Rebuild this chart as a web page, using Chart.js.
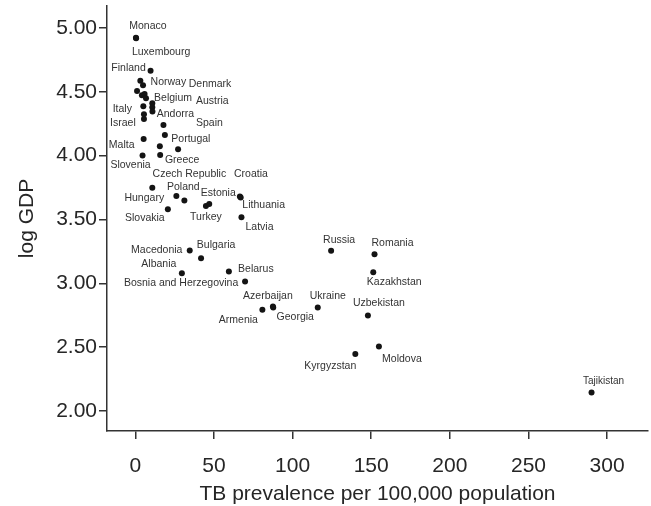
<!DOCTYPE html>
<html>
<head>
<meta charset="utf-8">
<script src="https://cdn.jsdelivr.net/npm/chart.js@4/dist/chart.umd.min.js"></script>
<style>
  html, body { margin: 0; padding: 0; background: #fff; }
  #wrap { width: 651px; height: 506px; }
</style>
</head>
<body>
<div id="wrap"><canvas id="c"></canvas></div>
<script>
// countries ('' = unlabelled point)
const countries = [
  'Monaco', 'Luxembourg', 'Finland', 'Norway', 'Denmark', '', '', '', 'Belgium', 'Austria',
  '', 'Andorra', 'Italy', '', 'Israel', 'Spain', 'Portugal', 'Malta', '', '',
  'Slovenia', 'Greece', 'Hungary', 'Czech Republic', 'Poland', 'Slovakia', 'Turkey', 'Estonia', 'Croatia', 'Lithuania',
  'Latvia', 'Macedonia', 'Bulgaria', 'Albania', 'Belarus', 'Bosnia and Herzegovina', 'Azerbaijan', 'Armenia', 'Georgia', 'Ukraine',
  'Russia', 'Romania', 'Kazakhstan', 'Uzbekistan', 'Moldova', 'Kyrgyzstan', 'Tajikistan'
];
const tbPrevalence = [
  0.4, 0.5, 9.7, 3.2, 4.9, 1.1, 4.2, 5.9, 6.8, 10.8,
  10.8, 10.9, 5.1, 5.5, 5.5, 17.9, 18.8, 5.3, 15.6, 27.2,
  4.6, 15.8, 10.8, 31.2, 26.1, 20.7, 44.9, 47.0, 66.5, 67.0,
  67.5, 34.6, 41.8, 29.6, 59.5, 69.8, 87.5, 80.8, 87.7, 116.0,
  124.5, 152.1, 151.3, 147.9, 154.9, 139.9, 290.1
];
const logGdp = [
  4.924, 4.92, 4.665, 4.587, 4.551, 4.507, 4.473, 4.483, 4.449, 4.410,
  4.379, 4.345, 4.387, 4.324, 4.287, 4.240, 4.162, 4.131, 4.074, 4.050,
  4.000, 4.005, 3.749, 3.648, 3.684, 3.580, 3.606, 3.622, 3.679, 3.672,
  3.518, 3.256, 3.197, 3.079, 3.092, 3.014, 2.818, 2.792, 2.810, 2.810,
  3.254, 3.228, 3.087, 2.747, 2.504, 2.447, 2.144
];
const xTicks = [0, 50, 100, 150, 200, 250, 300];
const yTicks = [2.0, 2.5, 3.0, 3.5, 4.0, 4.5, 5.0];

// label placement: offset of the label centre from its point, in px
const labelOffsets = {
  'Monaco': [12, -12], 'Luxembourg': [25, 14], 'Finland': [-22, -3], 'Norway': [28, 1],
  'Denmark': [67, -1], 'Belgium': [27, 0], 'Austria': [60, -2], 'Andorra': [23, 3],
  'Italy': [-21, 3], 'Israel': [-21, 4], 'Spain': [46, -2], 'Portugal': [26, 4],
  'Malta': [-22, 6], 'Slovenia': [-12, 9], 'Greece': [22, 5], 'Hungary': [-8, 10],
  'Czech Republic': [5, -26], 'Poland': [7, -9], 'Slovakia': [-23, 9], 'Turkey': [0, 11],
  'Estonia': [9, -11], 'Croatia': [11, -22], 'Lithuania': [23, 8], 'Latvia': [18, 10],
  'Macedonia': [-33, 0], 'Bulgaria': [15, -13], 'Albania': [-23, -9], 'Belarus': [27, -2],
  'Bosnia and Herzegovina': [-64, 2], 'Azerbaijan': [-5, -10], 'Armenia': [-24, 10],
  'Georgia': [22, 10], 'Ukraine': [10, -11], 'Russia': [8, -11], 'Romania': [18, -11],
  'Kazakhstan': [21, 10], 'Uzbekistan': [11, -12], 'Moldova': [23, 12],
  'Kyrgyzstan': [-25, 12], 'Tajikistan': [12, -11]
};

const FONT = '"Liberation Sans", Arial, Helvetica, sans-serif';
const INK = '#262626';

const points = tbPrevalence.map((x, i) => ({ x, y: logGdp[i], name: countries[i] }));

// draws the country names next to the dots
const pointLabels = {
  id: 'pointLabels',
  afterDatasetsDraw(chart) {
    const { ctx } = chart;
    const meta = chart.getDatasetMeta(0);
    ctx.save();
    ctx.fillStyle = '#333';
    ctx.textAlign = 'center';
    ctx.textBaseline = 'middle';
    meta.data.forEach((el, i) => {
      const name = countries[i];
      if (!name) return;
      const off = labelOffsets[name] || [0, -10];
      ctx.font = (name === 'Tajikistan' ? '10px ' : '10.5px ') + FONT;
      ctx.fillText(name, el.x + off[0], el.y + off[1]);
    });
    ctx.restore();
  }
};

new Chart(document.getElementById('c'), {
  type: 'scatter',
  data: {
    datasets: [{
      data: points,
      pointRadius: 3,
      pointHoverRadius: 3,
      pointBackgroundColor: '#141414',
      pointBorderWidth: 0
    }]
  },
  options: {
    responsive: true, maintainAspectRatio: false,
    animation: false,
    layout: { padding: { top: 6, right: 1, left: 0, bottom: 0 } },
    plugins: { legend: { display: false }, tooltip: { enabled: false } },
    scales: {
      x: {
        type: 'linear', min: -18, max: 326,
        afterBuildTicks: s => { s.ticks = xTicks.map(value => ({ value })); },
        afterFit: s => { s.height = 75; s.paddingLeft = 0; s.paddingRight = 0; },
        grid: { drawOnChartArea: false, drawTicks: true, tickLength: 8, color: '#333', lineWidth: 1.5 },
        border: { display: true, color: '#333', width: 1.5 },
        ticks: { color: INK, font: { family: FONT, size: 21 }, padding: 15 },
        title: { display: true, text: 'TB prevalence per 100,000 population', color: INK,
                 font: { family: FONT, size: 21 }, padding: { top: 0, bottom: -1 } }
      },
      y: {
        type: 'linear', min: 1.843, max: 5.172,
        afterBuildTicks: s => { s.ticks = yTicks.map(value => ({ value })); },
        afterFit: s => { s.width = 107; s.paddingTop = 0; s.paddingBottom = 0; },
        grid: { drawOnChartArea: false, drawTicks: true, tickLength: 8, color: '#333', lineWidth: 1.5 },
        border: { display: true, color: '#333', width: 1.5 },
        ticks: { color: INK, font: { family: FONT, size: 21 }, padding: 2,
                 callback: v => v.toFixed(2) },
        title: { display: true, text: 'log GDP', color: INK,
                 font: { family: FONT, size: 21 }, padding: { top: 15, bottom: 0 } }
      }
    }
  },
  plugins: [pointLabels]
});
</script>
</body>
</html>
